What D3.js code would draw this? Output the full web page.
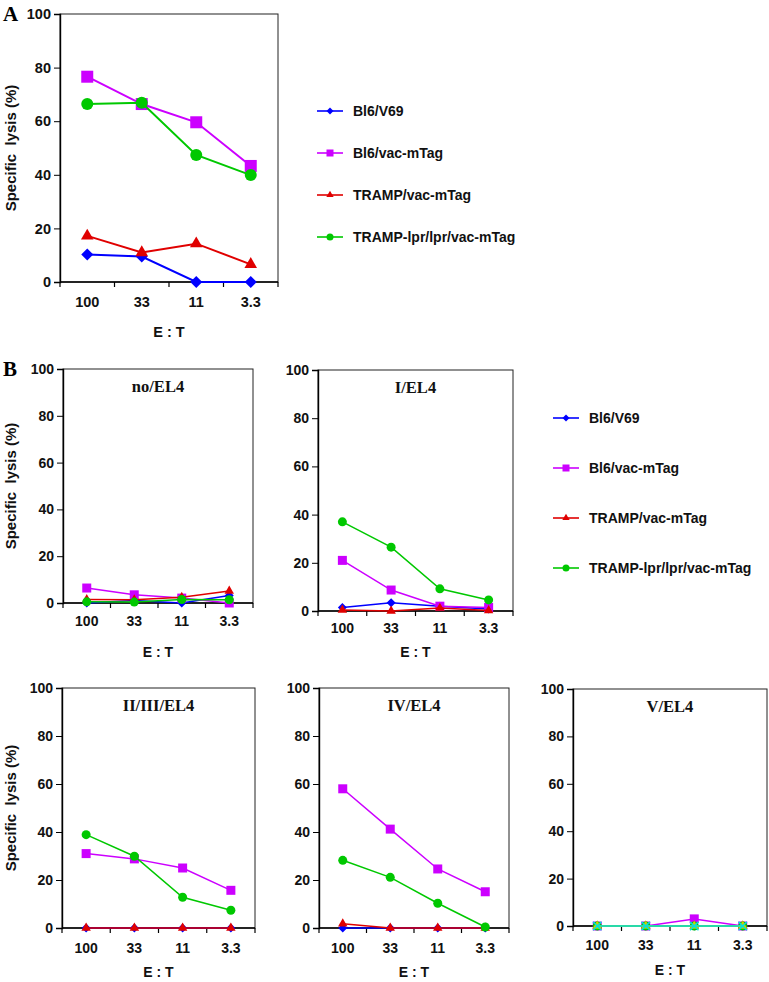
<!DOCTYPE html>
<html lang="en">
<head>
    <meta charset="UTF-8">
    <title>specific lysis</title>
    <script src="https://d3js.org/d3.v7.min.js"></script>
    <style>
        body { margin: 0; background: #fff; }
    </style>
</head>
<body>
<div id="fig"></div>
<script>
    // data
    let etLabels = ["100", "33", "11", "3.3"]
    let seriesNames = ["Bl6/V69", "Bl6/vac-mTag", "TRAMP/vac-mTag", "TRAMP-lpr/lpr/vac-mTag"]

    let aV69 = [10.3, 9.5, 0, 0]
    let aVac = [76.6, 66.4, 59.6, 43.3]
    let aTramp = [17.2, 11.0, 14.3, 6.6]
    let aLpr = [66.4, 66.9, 47.4, 39.9]

    let noV69 = [0, 1.1, 0, 3.2]
    let noVac = [6.4, 3.5, 2.1, 0]
    let noTramp = [1.5, 1.4, 2.5, 5.1]
    let noLpr = [0.5, 0.4, 1.5, 1.4]

    let iV69 = [1.5, 3.4, 2.0, 0.8]
    let iVac = [21.0, 8.7, 2.0, 1.5]
    let iTramp = [0.4, 0, 1.2, 0.2]
    let iLpr = [37.0, 26.5, 9.2, 4.6]

    let iiV69 = [0, 0, 0, 0]
    let iiVac = [31.0, 28.8, 25.0, 15.7]
    let iiTramp = [0, 0, 0, 0]
    let iiLpr = [38.9, 29.9, 12.8, 7.4]

    let ivV69 = [0, 0, 0, 0]
    let ivVac = [58.0, 41.2, 24.6, 15.1]
    let ivTramp = [1.8, 0, 0, 0]
    let ivLpr = [28.2, 21.1, 10.3, 0.4]

    let vV69 = [0, 0, 0, 0]
    let vVac = [0, 0, 3.0, 0]
    let vTramp = [0, 0, 0, 0]
    let vLpr = [0, 0, 0, 0]
    let vExtraA = [0, 0, 0, 0]
    let vExtraB = [0, 0, 0, 0]

    let yTicks = [0, 20, 40, 60, 80, 100]

    let styles = [
        {color: "#0000ff", shape: "diamond"},
        {color: "#cc00ff", shape: "square"},
        {color: "#e00000", shape: "triangle"},
        {color: "#00c800", shape: "circle"}
    ]
    let extraStyles = [
        {color: "#c8d000", shape: "triangle"},
        {color: "#00e0e0", shape: "cross"}
    ]

    let sans = "'Liberation Sans', Arial, sans-serif"
    let serif = "'Liberation Serif', 'Times New Roman', serif"

    let svg = d3.select("#fig").append("svg")
        .attr("width", 769).attr("height", 982)
        .attr("font-family", sans)

    function symbolPath(shape, s) {
        // s ~ marker width in px
        if (shape === "square") return d3.symbol(d3.symbolSquare, s * s)()
        if (shape === "diamond") return d3.symbol(d3.symbolSquare, s * s / 2)()
        if (shape === "triangle") return d3.symbol(d3.symbolTriangle, Math.sqrt(3) / 4 * s * s * 1.1)()
        if (shape === "cross") return d3.symbol(d3.symbolX, s * s * 0.6)()
        return d3.symbol(d3.symbolCircle, Math.PI * s * s / 4)()
    }

    function panel(p) {
        let g = svg.append("g")
        let x = d3.scalePoint().domain(etLabels).range([p.left, p.right]).padding(0.5)
        let y = d3.scaleLinear().domain([0, 100]).range([p.bottom, p.top])
        let step = x.step()

        g.append("rect")
            .attr("x", p.left).attr("y", p.top)
            .attr("width", p.right - p.left).attr("height", p.bottom - p.top)
            .attr("fill", "none").attr("stroke", "#222").attr("stroke-width", 1)

        // y axis
        let ya = g.append("g").attr("transform", `translate(${p.left},0)`)
            .call(d3.axisLeft(y).tickValues(yTicks).tickSize(6).tickPadding(3))
        ya.attr("font-family", sans)
        ya.select(".domain").attr("stroke", "#000").attr("stroke-width", 1.4)
        ya.selectAll("text").attr("font-size", p.tickFont).attr("font-weight", "bold")
            .attr("fill", "#111")

        // x axis: ticks on the category borders
        let borders = d3.range(5).map(i => p.left + i * step)
        g.append("line").attr("x1", p.left).attr("x2", p.right)
            .attr("y1", p.bottom).attr("y2", p.bottom)
            .attr("stroke", "#000").attr("stroke-width", 1.4)
        g.selectAll(".xt").data(borders).join("line")
            .attr("x1", d => d).attr("x2", d => d)
            .attr("y1", p.bottom).attr("y2", p.bottom + 5)
            .attr("stroke", "#000").attr("stroke-width", 1.2)
        g.selectAll(".xl").data(etLabels).join("text")
            .attr("x", d => x(d)).attr("y", p.xLabelY)
            .attr("text-anchor", "middle").attr("dominant-baseline", "central")
            .attr("font-size", p.tickFont).attr("font-weight", "bold").attr("fill", "#111")
            .text(d => d)
        g.append("text")
            .attr("x", (p.left + p.right) / 2).attr("y", p.etY)
            .attr("text-anchor", "middle").attr("dominant-baseline", "central")
            .attr("font-size", p.tickFont).attr("font-weight", "bold").attr("fill", "#111")
            .text("E : T")

        if (p.yLabel) {
            g.append("text")
                .attr("transform", `translate(10,${(p.top + p.bottom) / 2}) rotate(-90)`)
                .attr("text-anchor", "middle").attr("dominant-baseline", "central")
                .attr("font-size", 15).attr("font-weight", "bold").attr("fill", "#111")
                .style("white-space", "pre")
                .text("Specific  lysis (%)")
        }
        if (p.title) {
            g.append("text")
                .attr("x", (p.left + p.right) / 2).attr("y", p.top + 17)
                .attr("text-anchor", "middle").attr("dominant-baseline", "central")
                .attr("font-family", serif)
                .attr("font-size", 16.5).attr("font-weight", "bold").attr("fill", "#111")
                .text(p.title)
        }

        let line = d3.line().x((d, i) => x(etLabels[i])).y(d => y(d))
        p.series.forEach(function (s) {
            g.append("path").datum(s.values)
                .attr("d", line).attr("fill", "none")
                .attr("stroke", s.style.color).attr("stroke-width", p.lineWidth)
            g.selectAll(null).data(s.values).join("path")
                .attr("transform", (d, i) => `translate(${x(etLabels[i])},${y(d)})` +
                    (s.style.shape === "diamond" ? " rotate(45)" : ""))
                .attr("d", symbolPath(s.style.shape, p.marker))
                .attr("fill", s.style.color)
                .attr("stroke", s.style.shape === "cross" ? s.style.color : "none")
                .attr("stroke-width", 1.5)
        })
    }

    function legend(lx, tx, ys) {
        seriesNames.forEach(function (name, i) {
            let st = styles[i]
            svg.append("line").attr("x1", lx - 13).attr("x2", lx + 13)
                .attr("y1", ys[i]).attr("y2", ys[i])
                .attr("stroke", st.color).attr("stroke-width", 1.6)
            svg.append("path")
                .attr("transform", `translate(${lx},${ys[i]})` + (st.shape === "diamond" ? " rotate(45)" : ""))
                .attr("d", symbolPath(st.shape, 7))
                .attr("fill", st.color)
            svg.append("text").attr("x", tx).attr("y", ys[i])
                .attr("dominant-baseline", "central")
                .attr("font-size", 14).attr("font-weight", "bold").attr("fill", "#111")
                .text(name)
        })
    }

    function mk(vals, extra) {
        return vals.map((v, i) => ({values: v, style: (extra || styles)[i]}))
    }

    panel({left: 60, right: 278, top: 14, bottom: 282, tickFont: 14.5, marker: 12, lineWidth: 2,
        xLabelY: 302, etY: 332, yLabel: true, title: null,
        series: mk([aV69, aVac, aTramp, aLpr])})

    panel({left: 63, right: 253, top: 369, bottom: 603, tickFont: 14, marker: 9, lineWidth: 1.5,
        xLabelY: 621, etY: 652, yLabel: true, title: "no/EL4",
        series: mk([noV69, noVac, noTramp, noLpr])})
    panel({left: 318, right: 513, top: 370, bottom: 611, tickFont: 14, marker: 9, lineWidth: 1.5,
        xLabelY: 628, etY: 652, yLabel: false, title: "I/EL4",
        series: mk([iV69, iVac, iTramp, iLpr])})
    panel({left: 62, right: 255, top: 688, bottom: 928, tickFont: 14, marker: 9, lineWidth: 1.5,
        xLabelY: 948, etY: 972, yLabel: true, title: "II/III/EL4",
        series: mk([iiV69, iiVac, iiTramp, iiLpr])})
    panel({left: 319, right: 509, top: 688, bottom: 928, tickFont: 14, marker: 9, lineWidth: 1.5,
        xLabelY: 948, etY: 972, yLabel: false, title: "IV/EL4",
        series: mk([ivV69, ivVac, ivTramp, ivLpr])})
    panel({left: 573, right: 767, top: 689, bottom: 926, tickFont: 14, marker: 9, lineWidth: 1.5,
        xLabelY: 945, etY: 970, yLabel: false, title: "V/EL4",
        series: mk([vV69, vVac, vTramp, vLpr]).concat(mk([vExtraA, vExtraB], extraStyles))})

    legend(330, 353, [111, 153, 195, 237])
    legend(566, 589, [418, 468, 518, 568])

    svg.append("text").attr("x", 3).attr("y", 21)
        .attr("font-family", serif)
        .attr("font-size", 21).attr("font-weight", "bold").text("A")
    svg.append("text").attr("x", 3).attr("y", 376)
        .attr("font-family", serif)
        .attr("font-size", 21).attr("font-weight", "bold").text("B")
</script>
</body>
</html>
